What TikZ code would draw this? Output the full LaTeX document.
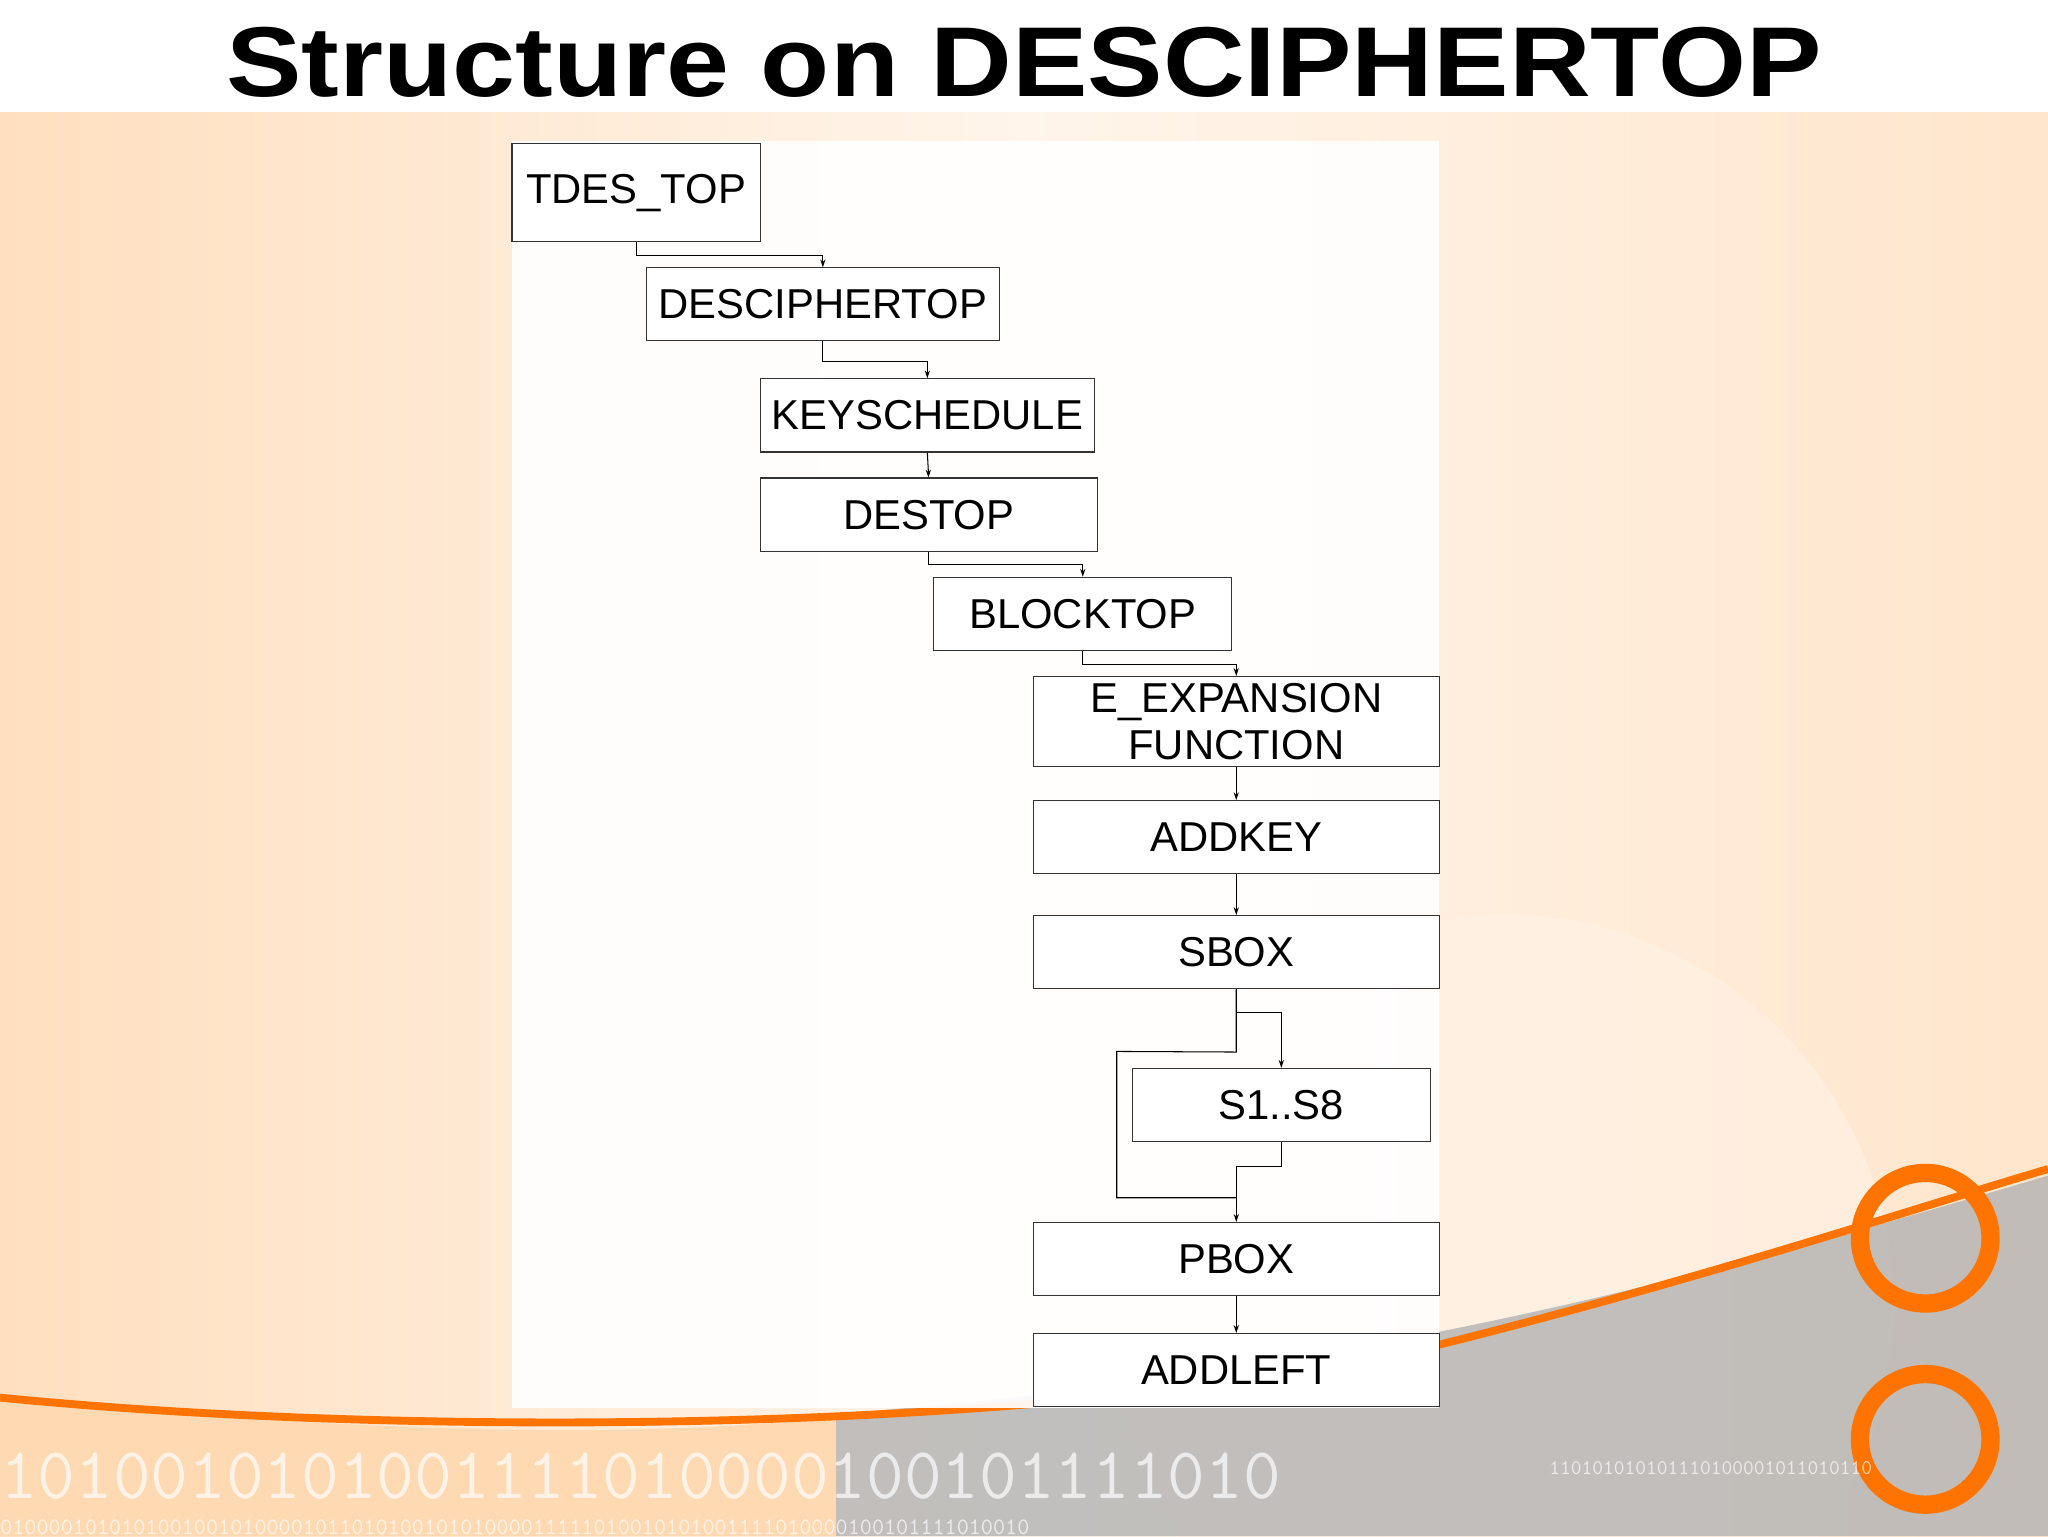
\documentclass[tikz,border=0pt]{standalone}
\usepackage{fontspec}
\setmainfont{Liberation Sans}
\usetikzlibrary{arrows.meta}
\begin{document}
\begin{tikzpicture}[x=1pt,y=-1pt,
  blk/.style={draw=black!80,line width=0.9pt,fill=white,inner sep=0pt,font=\fontsize{32}{36}\selectfont,align=center},
  con/.style={line width=0.8pt,-{Stealth[length=6pt,width=4pt]}},
  ln/.style={line width=0.8pt}]
\useasboundingbox (0,0) rectangle (1568,1176);
% background
\fill[white] (0,0) rectangle (1568,86);
\shade[left color=orange!25,right color=orange!20,middle color=orange!8] (0,86) rectangle (1568,1176);
\fill[orange!10,opacity=0.6] (1150,1000) circle (300);
\fill[black!30,opacity=0.8] (600,1176) -- (600,1085) .. controls (1000,1060) and (1300,980) .. (1568,900) -- (1568,1176) -- cycle;
\fill[orange!30!white] (0,1176) -- (0,1070) .. controls (300,1100) and (500,1100) .. (640,1085) -- (640,1176) -- cycle;
\draw[orange!90!red,line width=6pt] (0,1070) .. controls (300,1100) and (800,1100) .. (1100,1030) .. controls (1300,980) and (1450,930) .. (1568,895);
\draw[orange!90!red,line width=14pt] (1474,948) circle (50);
\draw[orange!90!red,line width=14pt] (1474,1102) circle (50);
\node[anchor=west,white,opacity=0.7,font=\ttfamily\fontsize{56}{56}\selectfont,inner sep=0pt] (bin1) at (0,1130) {1010010101001111010000100101111010};
\node[anchor=west,white,opacity=0.7,font=\ttfamily\fontsize{18}{18}\selectfont,inner sep=0pt] (bin2) at (0,1169) {0100001010101001001010000101101010010101000011111010010101001111010000100101111010010};
\node[anchor=west,white,opacity=0.7,font=\ttfamily\fontsize{16}{16}\selectfont,inner sep=0pt] (bin3) at (1186,1124) {110101010101110100001011010110};
% title
\node[font=\bfseries\fontsize{76}{80}\selectfont,xscale=1.14] (title) at (784,48) {Structure on DESCIPHERTOP};
% panel
\fill[white,opacity=0.93] (392,108) rectangle (1102,1078);
% boxes
\node[blk,minimum width=190,minimum height=75] (tdes) at (487,147.5) {TDES\_TOP};
\node[blk,minimum width=270,minimum height=56] (dct) at (630,233) {DESCIPHERTOP};
\node[blk,minimum width=256,minimum height=56] (ks) at (710,318) {KEYSCHEDULE};
\node[blk,minimum width=258,minimum height=56] (dt) at (711,394) {DESTOP};
\node[blk,minimum width=228,minimum height=56] (bt) at (829,470) {BLOCKTOP};
\node[blk,minimum width=311,minimum height=69] (ee) at (946.5,552.5) {E\_EXPANSION\\FUNCTION};
\node[blk,minimum width=311,minimum height=56] (ak) at (946.5,641) {ADDKEY};
\node[blk,minimum width=311,minimum height=56] (sb) at (946.5,729) {SBOX};
\node[blk,minimum width=228,minimum height=56] (s18) at (981,846) {S1..S8};
\node[blk,minimum width=311,minimum height=56] (pb) at (946.5,964) {PBOX};
\node[blk,minimum width=311,minimum height=56] (al) at (946.5,1049) {ADDLEFT};
% connectors
\draw[con] (tdes.south) -- ++(0,10) -| (dct.north);
\draw[con] (dct.south) -- ++(0,15) -| (ks.north);
\draw[con] (ks.south) -- (dt.north);
\draw[con] (dt.south) -- ++(0,10) -| (bt.north);
\draw[con] (bt.south) -- ++(0,10) -| (ee.north);
\draw[con] (ee.south) -- (ak.north);
\draw[con] (ak.south) -- (sb.north);
\draw[con] (sb.south) -- ++(0,18) -| (s18.north);
\draw[ln] (sb.south) -- ++(0,48) -- (855,805) -- (855,917) -- (946.5,917);
\draw[con] (s18.south) -- ++(0,19) -| (pb.north);
\draw[con] (pb.south) -- (al.north);
\end{tikzpicture}
\end{document}
